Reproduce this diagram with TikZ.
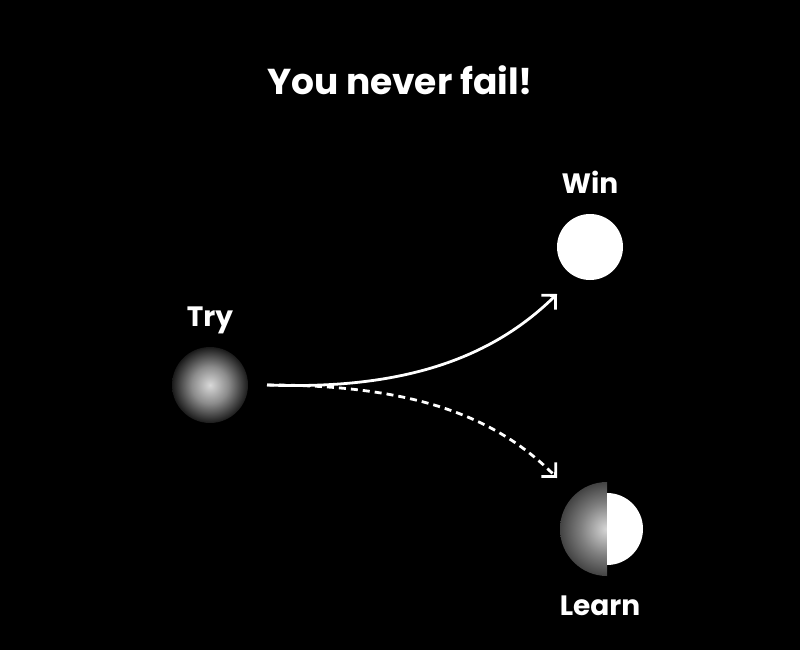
\documentclass[tikz,border=0pt]{standalone}
\usepackage{fontspec}
\setmainfont{Poppins}
\usetikzlibrary{arrows.meta}
\pgfdeclareradialshading{ball}{\pgfpoint{0bp}{0bp}}{color(0bp)=(white!85!black); color(12bp)=(white!55!black); color(28bp)=(black); color(50bp)=(black)}
\pgfdeclareradialshading{halfball}{\pgfpoint{0bp}{0bp}}{color(0bp)=(white!85!black); color(14bp)=(white!50!black); color(27bp)=(white!22!black); color(50bp)=(white!22!black)}
\tikzset{lbl/.style={text=white,font=\bfseries\fontsize{28pt}{32pt}\selectfont},
 conn/.style={white,line width=2.8pt,-{Straight Barb[length=10pt,width=20pt,line width=2.8pt]}}}
\begin{document}
\begin{tikzpicture}[x=1pt,y=-1pt]
\fill[black] (0,0) rectangle (800,650);
\useasboundingbox (0,0) rectangle (800,650);
\node[text=white,font=\bfseries\fontsize{36pt}{40pt}\selectfont] (title) at (400,80) {You never fail!};
\shade[shading=ball] (210,385) circle (38);
\coordinate (try) at (210,385);
\node[lbl] (trylbl) at (210,320) {Try};
\fill[white] (590,247) circle (33);
\coordinate (win) at (590,247);
\node[lbl] (winlbl) at (590,182) {Win};
\begin{scope}
\clip (540,470) rectangle (607,590);
\shade[shading=halfball] (607,529) circle (47);
\end{scope}
\begin{scope}
\clip (607,470) rectangle (660,590);
\fill[white] (607,529) circle (36);
\end{scope}
\node[lbl] (learnlbl) at (600,606) {Learn};
\coordinate (s) at (267,385);
\coordinate (w) at (557,294);
\coordinate (l) at (557,478);
\draw[conn] (s) .. controls (400,390) and (490,360) .. (w);
\draw[conn,dash pattern=on 7pt off 5pt] (s) .. controls (400,385) and (490,410) .. (l);
\end{tikzpicture}
\end{document}
